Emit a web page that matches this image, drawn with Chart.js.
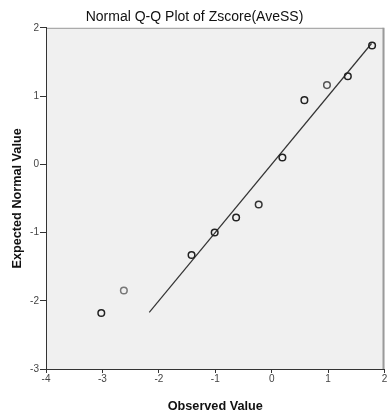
<!DOCTYPE html>
<html>
<head>
<meta charset="utf-8">
<script src="https://cdn.jsdelivr.net/npm/chart.js@4"></script>
<style>
  html, body { margin: 0; padding: 0; background: #fff; }
  #wrap { width: 390px; height: 414px; }
</style>
</head>
<body>
<div id="wrap"><canvas id="qq"></canvas></div>
<script>
// valeurs
const observed = [-3.02, -2.62, -1.42, -1.01, -0.63, -0.23, 0.19, 0.58, 0.98, 1.35, 1.78];
const expected = [-2.18, -1.85, -1.33, -1.00, -0.78, -0.59, 0.10, 0.94, 1.16, 1.29, 1.74];
const pointColors = ['#222', '#777', '#222', '#222', '#222', '#333', '#222', '#222', '#555', '#222', '#222'];
const refLine = [-2.17, 1.77];   // droite y = x
const xRange = [-4, 2];
const yRange = [-3, 2];

const plotBg = {
    id: 'plotBg',
    beforeDraw(chart) {
        const { ctx, chartArea: a } = chart;
        ctx.save();
        ctx.fillStyle = '#F0F0F0';
        ctx.fillRect(a.left, a.top, a.right - a.left, a.bottom - a.top);
        ctx.strokeStyle = '#9a9a9a';
        ctx.lineWidth = 1;
        ctx.beginPath();
        ctx.moveTo(a.left, a.top + 0.5);
        ctx.lineTo(a.right - 1, a.top + 0.5);
        ctx.stroke();
        ctx.lineWidth = 2;
        ctx.beginPath();
        ctx.moveTo(a.right - 1, a.top);
        ctx.lineTo(a.right - 1, a.bottom);
        ctx.stroke();
        ctx.restore();
    }
};

const fontFam = 'Arial, "Liberation Sans", sans-serif';

new Chart(document.getElementById('qq'), {
    type: 'scatter',
    data: {
        datasets: [{
            label: 'Observed',
            data: observed.map((x, i) => ({ x: x, y: expected[i] })),
            pointStyle: 'circle',
            pointRadius: 3.3,
            pointBorderWidth: 1.5,
            pointBorderColor: pointColors,
            pointBackgroundColor: 'rgba(0,0,0,0)',
            showLine: false
        }, {
            label: 'Line',
            data: refLine.map(v => ({ x: v, y: v })),
            showLine: true,
            borderColor: '#333',
            borderWidth: 1.2,
            pointRadius: 0
        }]
    },
    options: {
        responsive: true,
        maintainAspectRatio: false,
        animation: false,
        layout: { padding: { left: 0, right: 1, top: 0, bottom: 0 } },
        plugins: {
            legend: { display: false },
            tooltip: { enabled: false },
            title: {
                display: true,
                text: 'Normal Q-Q Plot of Zscore(AveSS)',
                color: '#111',
                font: { family: fontFam, size: 14, weight: 'normal' },
                padding: { top: 9, bottom: 2 }
            }
        },
        scales: {
            x: {
                type: 'linear',
                min: xRange[0],
                max: xRange[1],
                ticks: {
                    stepSize: 1,
                    color: '#444',
                    padding: 0,
                    font: { family: fontFam, size: 10 }
                },
                grid: { drawOnChartArea: false, drawTicks: true, tickLength: 4, color: '#333' },
                border: { color: '#333', width: 1 },
                title: {
                    display: true,
                    text: 'Observed Value',
                    color: '#111',
                    font: { family: fontFam, size: 12.7, weight: 'bold' },
                    padding: { top: 6, bottom: 0 }
                },
                afterFit(scale) {
                    scale.height = 45;
                    scale.paddingLeft = 0;
                    scale.paddingRight = 0;
                }
            },
            y: {
                type: 'linear',
                min: yRange[0],
                max: yRange[1],
                ticks: {
                    stepSize: 1,
                    color: '#444',
                    padding: 1,
                    font: { family: fontFam, size: 10 }
                },
                grid: { drawOnChartArea: false, drawTicks: true, tickLength: 6, color: '#333' },
                border: { color: '#333', width: 1 },
                title: {
                    display: true,
                    text: 'Expected Normal Value',
                    color: '#111',
                    font: { family: fontFam, size: 12.7, weight: 'bold' },
                    padding: { top: 10, bottom: 0 }
                },
                afterFit(scale) {
                    scale.width = 46;
                    scale.paddingTop = 0;
                    scale.paddingBottom = 0;
                }
            }
        }
    },
    plugins: [plotBg]
});
</script>
</body>
</html>
